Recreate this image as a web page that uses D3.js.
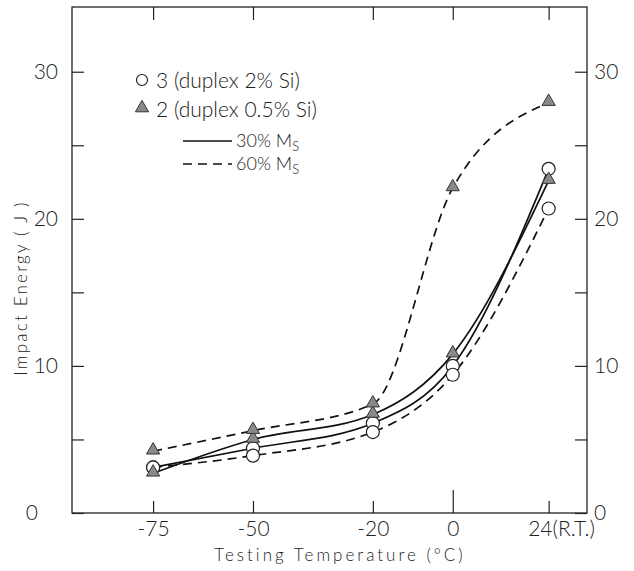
<!DOCTYPE html>
<html>
<head>
<meta charset="utf-8">
<script src="https://cdn.jsdelivr.net/npm/d3@7"></script>
<style>
  body { margin: 0; background: #fff; }
  svg text { font-family: Lato, "Liberation Sans", sans-serif; font-weight: 300; fill: #222; }
</style>
</head>
<body>
<svg id="chart" width="634" height="571"></svg>
<script>
// data
var temps = [-75, -50, -20, 0, 24];
var tempLabels = ["-75", "-50", "-20", "0", "24(R.T.)"];
var energyTicks = [0, 5, 10, 15, 20, 25, 30];
var tri30 = [2.7, 5.0, 6.7, 10.8, 22.6];   // 2 (duplex 0.5% Si), 30% Ms
var tri60 = [4.2, 5.6, 7.4, 22.1, 27.9];   // 2 (duplex 0.5% Si), 60% Ms
var circ30 = [3.1, 4.4, 6.1, 10.0, 23.4];  // 3 (duplex 2% Si), 30% Ms
var circ60 = [3.1, 3.9, 5.5, 9.4, 20.7];   // 3 (duplex 2% Si), 60% Ms

var svg = d3.select('#chart');
var x = d3.scaleLinear().domain([-95.3, 33.6]).range([72, 587]);
var y = d3.scaleLinear().domain([0, 34.4]).range([513, 7]);

// frame
svg.append('rect')
  .attr('x', 72).attr('y', 7).attr('width', 515).attr('height', 506)
  .attr('fill', 'none').attr('stroke', '#222').attr('stroke-width', 1.3);

// axes, ticks point inwards
var axBottom = svg.append('g').attr('transform', 'translate(0,513)')
  .call(d3.axisBottom(x).tickValues(temps).tickSize(-12).tickPadding(8)
    .tickFormat(function(d, i) { return tempLabels[i]; }));
var axTop = svg.append('g').attr('transform', 'translate(0,7)')
  .call(d3.axisTop(x).tickValues(temps).tickSize(-13).tickFormat(''));
var axLeft = svg.append('g').attr('transform', 'translate(72,0)')
  .call(d3.axisLeft(y).tickValues(energyTicks).tickSize(-12).tickPadding(14)
    .tickFormat(function(d) { return d % 10 === 0 ? d : ''; }));
var axRight = svg.append('g').attr('transform', 'translate(587,0)')
  .call(d3.axisRight(y).tickValues(energyTicks).tickSize(-12).tickPadding(7)
    .tickFormat(function(d) { return d % 10 === 0 ? d : ''; }));

[axBottom, axTop, axLeft, axRight].forEach(function(g) {
  g.select('.domain').remove();
  g.selectAll('line').attr('stroke', '#222').attr('stroke-width', 1.2);
  g.selectAll('text').attr('font-size', 21).attr('fill', '#222')
    .style('font-family', 'Lato, "Liberation Sans", sans-serif').style('font-weight', 300);
});
// the 0 °C tick is drawn longer
axBottom.selectAll('.tick').filter(function(d) { return d === 0; }).select('line').attr('y2', -23);
// "24(R.T.)" hangs to the right of its tick
axBottom.selectAll('.tick').filter(function(d) { return d === 24; }).select('text')
  .attr('text-anchor', 'start').attr('x', -21);
// the left 0 sits further out
axLeft.selectAll('.tick').filter(function(d) { return d === 0; }).select('text').attr('x', -34);

// axis titles
svg.append('text')
  .attr('x', 340).attr('y', 561).attr('text-anchor', 'middle')
  .attr('font-size', 17).style('letter-spacing', '3px')
  .text('Testing Temperature (\u00B0C)');
svg.append('text')
  .attr('transform', 'translate(27,288) rotate(-90)').attr('text-anchor', 'middle')
  .attr('font-size', 17).style('letter-spacing', '2.2px')
  .text('Impact Energy ( J )');

// curves
var line = d3.line()
  .x(function(d, i) { return x(temps[i]); })
  .y(function(d) { return y(d); })
  .curve(d3.curveMonotoneX);

var curves = [
  { values: tri60, dash: '9,6' },
  { values: tri30, dash: null },
  { values: circ30, dash: null },
  { values: circ60, dash: '9,6' }
];
svg.selectAll('.curve').data(curves).enter().append('path')
  .attr('class', 'curve')
  .attr('d', function(d) { return line(d.values); })
  .attr('fill', 'none').attr('stroke', '#111').attr('stroke-width', 1.7)
  .attr('stroke-dasharray', function(d) { return d.dash; });

// markers
[circ30, circ60].forEach(function(vals) {
  svg.append('g').selectAll('circle').data(vals).enter().append('circle')
    .attr('cx', function(d, i) { return x(temps[i]); })
    .attr('cy', function(d) { return y(d); })
    .attr('r', 6.5)
    .attr('fill', '#fff').attr('stroke', '#222').attr('stroke-width', 1.2);
});
var tri = d3.symbol().type(d3.symbolTriangle).size(75);
[tri30, tri60].forEach(function(vals) {
  svg.append('g').selectAll('path').data(vals).enter().append('path')
    .attr('d', tri)
    .attr('transform', function(d, i) { return 'translate(' + x(temps[i]) + ',' + (y(d) - 1) + ')'; })
    .attr('fill', '#8a8a8a').attr('stroke', '#333').attr('stroke-width', 1);
});

// legend
var legend = svg.append('g');
legend.append('circle').attr('cx', 142).attr('cy', 80).attr('r', 5.5)
  .attr('fill', '#fff').attr('stroke', '#222').attr('stroke-width', 1.2);
legend.append('text').attr('x', 156).attr('y', 88).attr('font-size', 21).text('3 (duplex 2% Si)');
legend.append('path').attr('d', tri).attr('transform', 'translate(142,108)')
  .attr('fill', '#8a8a8a').attr('stroke', '#333').attr('stroke-width', 1);
legend.append('text').attr('x', 156).attr('y', 117).attr('font-size', 21).text('2 (duplex 0.5% Si)');

var keys = [
  { label: '30% M', dash: null, y: 141 },
  { label: '60% M', dash: '9,6', y: 164 }
];
keys.forEach(function(k) {
  legend.append('line').attr('x1', 183).attr('x2', 232).attr('y1', k.y).attr('y2', k.y)
    .attr('stroke', '#111').attr('stroke-width', 1.7).attr('stroke-dasharray', k.dash);
  var t = legend.append('text').attr('x', 236).attr('y', k.y + 6).attr('font-size', 18).text(k.label);
  t.append('tspan').attr('font-size', 13).attr('dy', 4).text('S');
});
</script>
</body>
</html>
